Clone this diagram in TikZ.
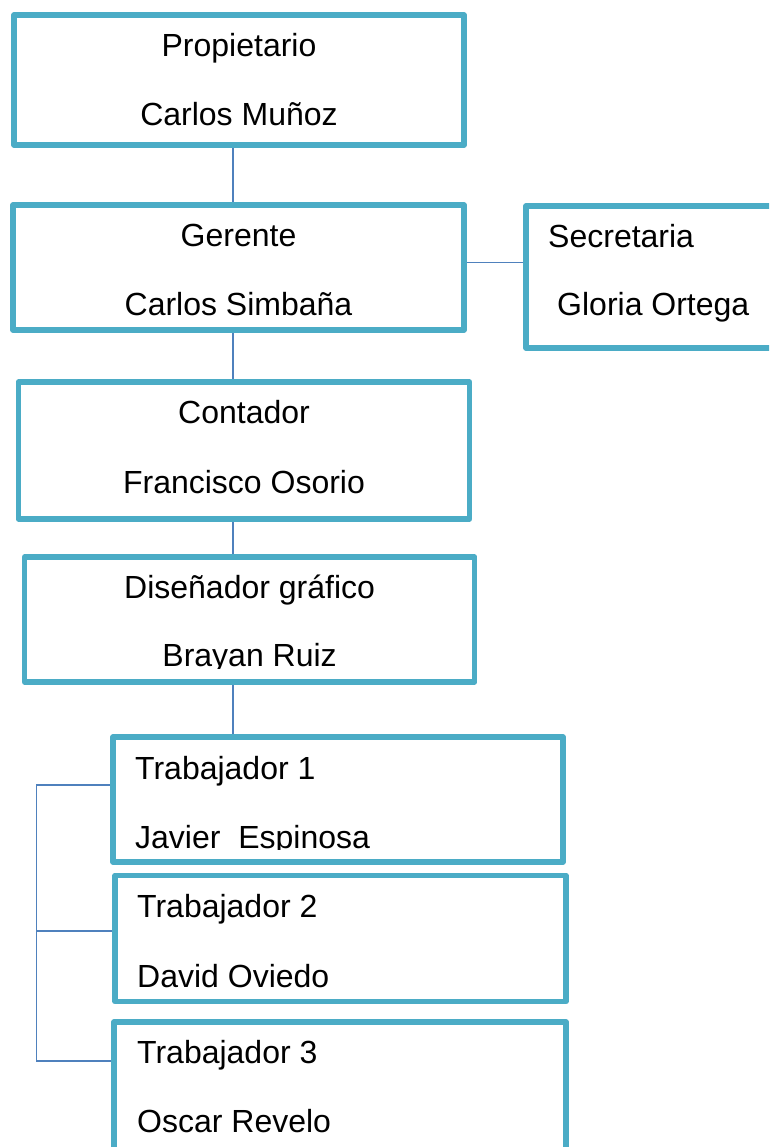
\documentclass[tikz,border=0pt]{standalone}
\usepackage{fontspec}
\setmainfont{Liberation Sans}
\usepackage{tikz}
\usetikzlibrary{calc,backgrounds}
\definecolor{cajaazul}{RGB}{75,172,198}
\definecolor{lineaazul}{RGB}{79,129,189}

\begin{document}
\begin{tikzpicture}[x=1pt, y=-1pt,
  cargo/.style={draw=cajaazul, line width=5.5pt, line join=round, inner sep=0pt, outer sep=0pt},
  nombre/.style={font=\fontsize{32}{38}\selectfont, anchor=base, inner sep=0pt},
  conn/.style={draw=lineaazul, line width=1.2pt}]
  \useasboundingbox (0,0) rectangle (769,1147);
  \clip (0,0) rectangle (769,1147);

  % Cargos
  \node[cargo, minimum width=450, minimum height=130] (prop) at (239,80) {};
  \node[cargo, minimum width=451, minimum height=125] (ger) at (238.5,267.5) {};
  \node[cargo, minimum width=274, minimum height=142] (sec) at (663,277) {};
  \node[cargo, minimum width=451, minimum height=137] (cont) at (244,450.5) {};
  \node[cargo, minimum width=450, minimum height=125] (dis) at (249.6,619.5) {};
  \node[cargo, minimum width=450, minimum height=125] (t1) at (338,799.5) {};
  \node[cargo, minimum width=451, minimum height=126] (t2) at (340.5,938.5) {};
  \node[cargo, minimum width=452, minimum height=128] (t3) at (340,1086) {};

  % Nombres
  \node[nombre] (propA) at ($(prop.north)+(0,42)$) {Propietario};
  \node[nombre] (propB) at ($(prop.north)+(0,111)$) {Carlos Muñoz};
  \node[nombre] (gerA) at ($(ger.north)+(0,42)$) {Gerente};
  \node[nombre] (gerB) at ($(ger.north)+(0,110.5)$) {Carlos Simbaña};
  \node[nombre, anchor=base west] (secA) at ($(sec.north west)+(22,41.5)$) {Secretaria};
  \node[nombre, anchor=base west] (secB) at ($(sec.north west)+(31,109.5)$) {Gloria Ortega};
  \node[nombre] (contA) at ($(cont.north)+(0,41.5)$) {Contador};
  \node[nombre] (contB) at ($(cont.north)+(0,111)$) {Francisco Osorio};
  \node[nombre] (disA) at ($(dis.north)+(0,41.5)$) {Diseñador gráfico};
  \begin{scope}
    \clip (dis.north west) rectangle ($(dis.north east)+(0,111)$);
    \node[nombre] (disB) at ($(dis.north)+(0,109.5)$) {Brayan Ruiz};
  \end{scope}
  \node[nombre, anchor=base west] (t1A) at ($(t1.north west)+(22,42)$) {Trabajador 1};
  \begin{scope}
    \clip (t1.north west) rectangle ($(t1.north east)+(0,112)$);
    \node[nombre, anchor=base west] (t1B) at ($(t1.north west)+(22,111)$) {Javier\ \ Espinosa};
  \end{scope}
  \node[nombre, anchor=base west] (t2A) at ($(t2.north west)+(22,42)$) {Trabajador 2};
  \node[nombre, anchor=base west] (t2B) at ($(t2.north west)+(22,111.5)$) {David Oviedo};
  \node[nombre, anchor=base west] (t3A) at ($(t3.north west)+(23,41)$) {Trabajador 3};
  \node[nombre, anchor=base west] (t3B) at ($(t3.north west)+(23,110)$) {Oscar Revelo};

  % Lineas de mando
  \coordinate (eje) at (233,0);
  \coordinate (gs) at (0,262.3);
  \coordinate (b1) at (36.5,785);
  \coordinate (b2) at (36.5,931);
  \coordinate (b3) at (36.5,1061);
  \begin{scope}[on background layer]
    \fill[white] (0,0) rectangle (769,1147);
    \draw[conn] (prop.south -| eje) -- (ger.north -| eje);
    \draw[conn] (ger.south -| eje) -- (cont.north -| eje);
    \draw[conn] (cont.south -| eje) -- (dis.north -| eje);
    \draw[conn] (dis.south -| eje) -- (t1.north -| eje);
    \draw[conn] (ger.east |- gs) -- (sec.west |- gs);
    \draw[conn] (t1.west |- b1) -- (b1) -- (b3) -- (t3.west |- b3);
    \draw[conn] (b2) -- (t2.west |- b2);
  \end{scope}
\end{tikzpicture}
\end{document}
